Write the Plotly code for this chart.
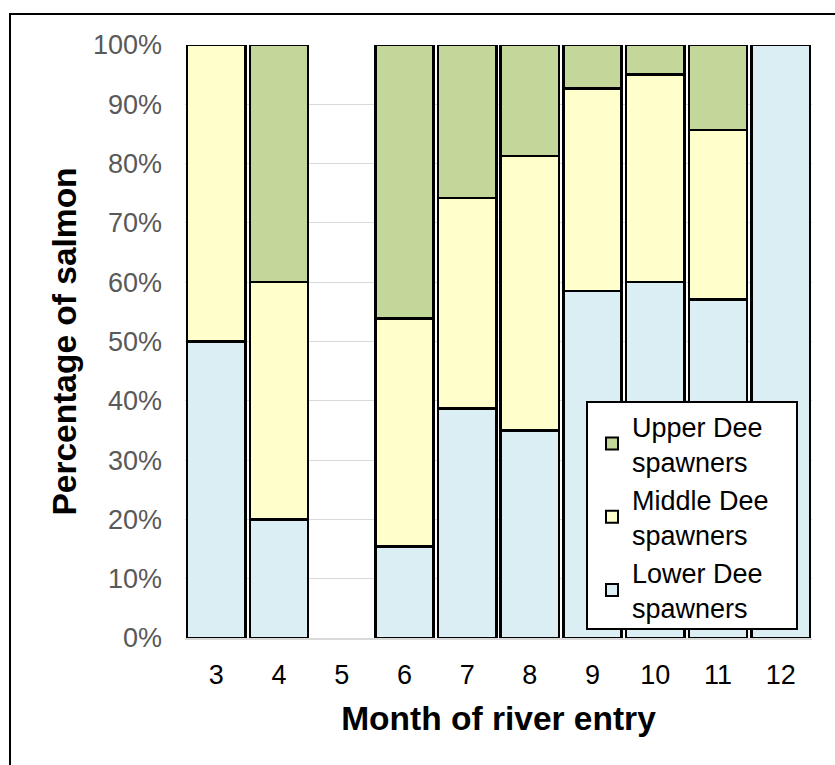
import plotly.graph_objects as go

months = ["3", "4", "5", "6", "7", "8", "9", "10", "11", "12"]
lower = [50.0, 20.0, None, 15.4, 38.7, 35.0, 58.5, 60.0, 57.1, 100.0]
middle = [50.0, 40.0, None, 38.5, 35.5, 46.3, 34.2, 35.0, 28.6, None]
upper = [None, 40.0, None, 46.1, 25.8, 18.7, 7.3, 5.0, 14.3, None]

series_names = ["Lower Dee<br>spawners", "Middle Dee<br>spawners", "Upper Dee<br>spawners"]
series_colors = ["#DAEEF3", "#FFFFCC", "#C4D79B"]
y_ticks = [0, 10, 20, 30, 40, 50, 60, 70, 80, 90, 100]
y_ticktext = [f"{v}%" for v in y_ticks]

FONT = "Arial, 'Liberation Sans', sans-serif"

fig = go.Figure()
for name, vals, col in zip(series_names, [lower, middle, upper], series_colors):
    fig.add_trace(go.Bar(
        x=months, y=vals, name=name,
        marker=dict(color=col, line=dict(color="black", width=2.5)),
    ))

W, H = 835, 765
L, R, T, B = 185, 23, 45, 127
pw, ph = W - L - R, H - T - B

def px_x(x):
    return (x - L) / pw

def px_y(y):
    return (H - B - y) / ph

fig.update_layout(
    width=W, height=H,
    margin=dict(l=L, r=R, t=T, b=B, pad=0),
    barmode="stack", bargap=0.07,
    paper_bgcolor="white", plot_bgcolor="white",
    font=dict(family=FONT, color="black"),
    legend=dict(
        traceorder="reversed",
        x=px_x(592), y=px_y(402), xanchor="left", yanchor="top",
        bgcolor="rgba(0,0,0,0)", borderwidth=0,
        font=dict(size=27, color="black", family=FONT),
        itemsizing="constant", tracegroupgap=2,
    ),
    xaxis=dict(
        type="category",
        tickfont=dict(size=27, color="black"),
        showline=True, linecolor="#D9D9D9", linewidth=1.5,
        ticks="", ticklabelstandoff=12,
        title=dict(text="<b>Month of river entry</b>", font=dict(size=33.5, color="black"), standoff=17),
    ),
    yaxis=dict(
        range=[0, 100], tickvals=y_ticks, ticktext=y_ticktext,
        tickfont=dict(size=27, color="#595959"),
        showgrid=True, gridcolor="#D9D9D9", gridwidth=1.2,
        showline=False, zeroline=False, ticks="", ticklabelstandoff=22,
        title=dict(text="<b>Percentage of salmon</b>", font=dict(size=33.5, color="black"), standoff=6),
    ),
    shapes=[
        dict(type="rect", xref="paper", yref="paper",
             x0=px_x(10), x1=px_x(860), y0=px_y(800), y1=px_y(14),
             line=dict(color="black", width=2), fillcolor="rgba(0,0,0,0)", layer="above"),
        dict(type="rect", xref="paper", yref="paper",
             x0=px_x(587), x1=px_x(797), y0=px_y(629), y1=px_y(402),
             line=dict(color="black", width=2), fillcolor="white", layer="above"),
    ],
)

fig.write_html(
    "out.html",
    config={"displayModeBar": False},
    post_script="document.body.style.margin='0px';document.body.style.overflow='hidden';",
)
